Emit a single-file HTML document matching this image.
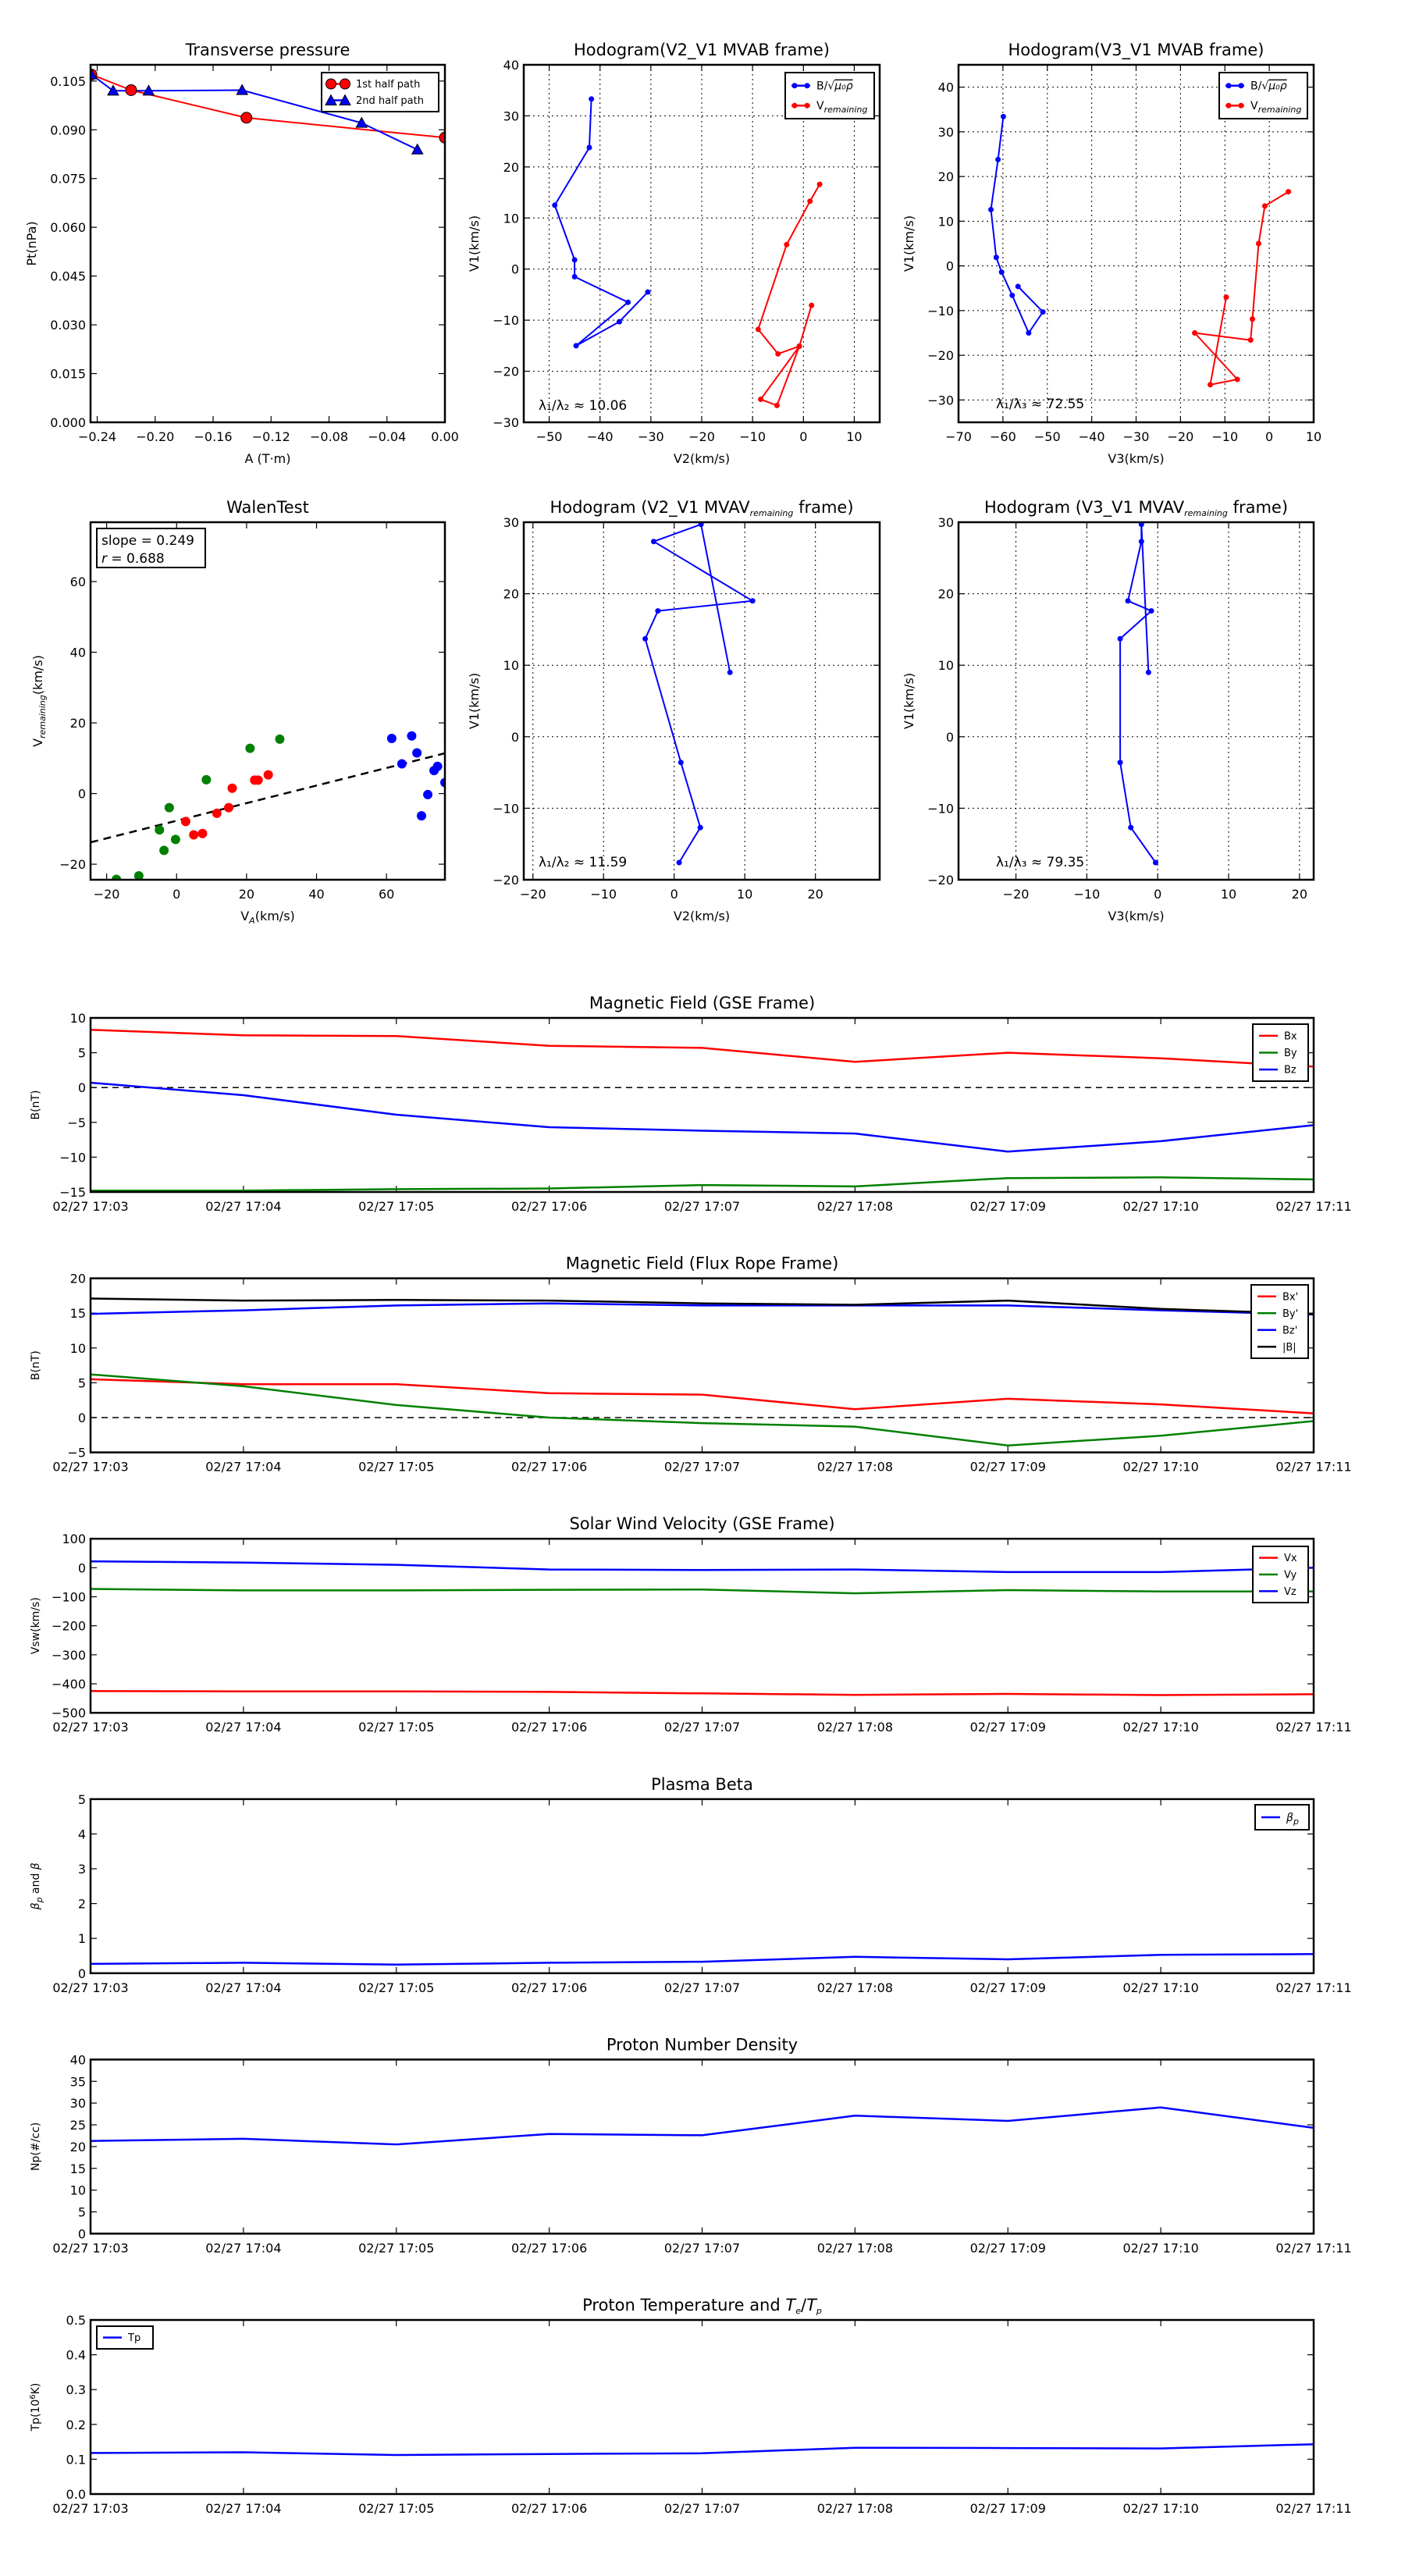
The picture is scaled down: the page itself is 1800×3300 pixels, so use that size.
<!DOCTYPE html>
<html><head><meta charset="utf-8"><title>Flux rope analysis</title>
<style>html,body{margin:0;padding:0;background:#fff}svg{display:block;font-family:"DejaVu Sans","Liberation Sans",sans-serif}</style>
</head><body>
<svg id="fig" xmlns="http://www.w3.org/2000/svg" width="1800" height="3300" viewBox="0 0 1800 3300"></svg>
<script>
// ---------- data ----------
const ptRedA = [-0.2440, -0.2166, -0.1370, 0.0000];
const ptRedP = [0.1070, 0.1022, 0.0937, 0.0876];
const ptBlueA = [-0.2440, -0.2290, -0.2045, -0.1400, -0.0575, -0.0190];
const ptBlueP = [0.1070, 0.1020, 0.1020, 0.1022, 0.0921, 0.0839];

const h1BlueV2 = [-41.7, -42.1, -48.9, -45.0, -45.0, -34.5, -44.7, -36.2, -30.6];
const h1BlueV1 = [33.3, 23.8, 12.5, 1.8, -1.5, -6.5, -15.0, -10.3, -4.5];
const h1RedV2 = [3.2, 1.3, -3.3, -8.9, -5.0, -0.8, -8.4, -5.2, -0.8, 1.6];
const h1RedV1 = [16.6, 13.3, 4.8, -11.8, -16.6, -15.1, -25.5, -26.7, -15.1, -7.1];

const h2BlueV3 = [-59.9, -61.1, -62.7, -61.5, -60.3, -57.9, -54.2, -51.0, -56.6];
const h2BlueV1 = [33.4, 23.8, 12.6, 1.9, -1.4, -6.6, -15.0, -10.3, -4.6];
const h2RedV3 = [4.3, -1.0, -2.4, -3.8, -4.2, -16.8, -7.2, -13.3, -9.7];
const h2RedV1 = [16.6, 13.4, 5.0, -11.9, -16.6, -15.0, -25.4, -26.6, -7.0];

const walenGreenX = [-17.2, -10.8, -3.6, -4.9, -0.3, -2.1, 8.5, 21.0, 29.5];
const walenGreenY = [-24.3, -23.3, -16.1, -10.3, -13.0, -4.0, 3.9, 12.8, 15.4];
const walenRedX = [2.6, 4.9, 7.4, 11.5, 14.9, 15.9, 22.3, 23.3, 26.2];
const walenRedY = [-7.9, -11.7, -11.3, -5.6, -4.0, 1.5, 3.8, 3.8, 5.3];
const walenBlueX = [61.5, 67.2, 64.4, 68.7, 70.0, 71.8, 73.6, 74.6, 76.7];
const walenBlueY = [15.6, 16.3, 8.4, 11.5, -6.3, -0.3, 6.5, 7.7, 3.1];
const walenSlope = 0.249;
const walenIntercept = -7.7;

const h3V2 = [7.9, 3.8, -2.9, 11.1, -2.3, -4.1, 0.95, 3.7, 0.7];
const h3V1 = [9.0, 29.7, 27.3, 19.0, 17.6, 13.7, -3.6, -12.7, -17.6];
const h4V3 = [-1.3, -2.3, -2.3, -4.2, -0.9, -5.3, -5.3, -3.8, -0.3];
const h4V1 = [9.0, 29.7, 27.3, 19.0, 17.6, 13.7, -3.6, -12.7, -17.6];

const timeLabels = ["02/27 17:03","02/27 17:04","02/27 17:05","02/27 17:06","02/27 17:07","02/27 17:08","02/27 17:09","02/27 17:10","02/27 17:11"];
const minutes = [0,1,2,3,4,5,6,7,8];
const gseBx = [8.3, 7.5, 7.4, 6.0, 5.7, 3.7, 5.0, 4.2, 3.0];
const gseBy = [-14.8, -14.8, -14.6, -14.5, -14.0, -14.2, -13.0, -12.9, -13.2];
const gseBz = [0.7, -1.1, -3.9, -5.7, -6.2, -6.6, -9.2, -7.7, -5.4];
const frBx = [5.5, 4.8, 4.8, 3.5, 3.3, 1.2, 2.7, 1.9, 0.6];
const frBy = [6.2, 4.5, 1.8, 0.0, -0.8, -1.3, -4.0, -2.6, -0.5];
const frBz = [14.9, 15.4, 16.1, 16.4, 16.1, 16.1, 16.1, 15.4, 14.8];
const frB = [17.1, 16.8, 16.9, 16.8, 16.4, 16.2, 16.8, 15.6, 14.9];
const vx = [-425, -426, -426, -428, -433, -438, -435, -439, -436];
const vy = [-73, -78, -78, -76, -75, -88, -77, -82, -82];
const vz = [22, 18, 10, -6, -8, -6, -15, -15, 0];
const betaP = [0.27, 0.30, 0.25, 0.30, 0.33, 0.47, 0.40, 0.53, 0.55];
const density = [21.3, 21.8, 20.5, 22.9, 22.6, 27.1, 25.9, 29.0, 24.3];
const tempP = [0.118, 0.120, 0.112, 0.115, 0.117, 0.133, 0.132, 0.131, 0.143];

// ---------- helpers ----------
const NS = "http://www.w3.org/2000/svg";
const svg = document.getElementById('fig');
let clipId = 0;
function mk(tag, attrs, parent) {
  const e = document.createElementNS(NS, tag);
  for (const k in attrs) e.setAttribute(k, attrs[k]);
  parent.appendChild(e);
  return e;
}
function range(a, b, s) { const r = []; for (let v = a; v <= b + 1e-9; v += s) r.push(Math.round(v * 1e6) / 1e6); return r; }
function fmt(v, d) { const s = v.toFixed(d); return s.replace('-', '\u2212'); }

function axes(c) {
  const g = mk('g', {}, svg);
  
  
  const sx = v => c.x0 + (v - c.xmin) / (c.xmax - c.xmin) * c.w;
  const sy = v => c.y0 + c.h - (v - c.ymin) / (c.ymax - c.ymin) * c.h;
  if (c.grid) {
    c.xticks.forEach(t => {
      const l = mk('line', {x1: sx(t), x2: sx(t), y1: c.y0, y2: c.y0 + c.h, stroke: '#000', 'stroke-width': 1, 'stroke-dasharray': '2,4'}, g);
      
      
    });
    c.yticks.forEach(t => {
      const l = mk('line', {x1: c.x0, x2: c.x0 + c.w, y1: sy(t), y2: sy(t), stroke: '#000', 'stroke-width': 1, 'stroke-dasharray': '2,4'}, g);
      
      
    });
  }
  c.xticks.forEach((t, i) => {
    const x = sx(t);
    mk('line', {x1: x, x2: x, y1: c.y0 + c.h, y2: c.y0 + c.h - 8, stroke: '#000', 'stroke-width': 1.2}, g);
    mk('line', {x1: x, x2: x, y1: c.y0, y2: c.y0 + 8, stroke: '#000', 'stroke-width': 1.2}, g);
    const tx = mk('text', {x: x, y: c.y0 + c.h + 24, 'font-size': 16, 'text-anchor': 'middle'}, g);
    tx.textContent = c.xlabels[i];
    
    
  });
  c.yticks.forEach((t, i) => {
    const y = sy(t);
    mk('line', {x1: c.x0, x2: c.x0 + 8, y1: y, y2: y, stroke: '#000', 'stroke-width': 1.2}, g);
    mk('line', {x1: c.x0 + c.w, x2: c.x0 + c.w - 8, y1: y, y2: y, stroke: '#000', 'stroke-width': 1.2}, g);
    const tx = mk('text', {x: c.x0 - 6, y: y + 6, 'font-size': 16, 'text-anchor': 'end'}, g);
    tx.textContent = c.ylabels[i];
    
    
  });
  clipId++;
  const cp = mk('clipPath', {id: 'cp' + clipId}, g);
  mk('rect', {x: c.x0, y: c.y0, width: c.w, height: c.h}, cp);
  const plot = mk('g', {'clip-path': 'url(#cp' + clipId + ')'}, g);
  
  
  const fr = () => {
    const f = mk('rect', {x: c.x0, y: c.y0, width: c.w, height: c.h, fill: 'none', stroke: '#000', 'stroke-width': 2.5}, g);
    
    
  };
  const ti = mk('text', {x: c.x0 + c.w / 2, y: c.y0 - 12, 'font-size': 21, 'text-anchor': 'middle'}, g);
  ti.innerHTML = c.title;
  
  
  if (c.xtitle) {
    const xt = mk('text', {x: c.x0 + c.w / 2, y: c.y0 + c.h + 52, 'font-size': 16, 'text-anchor': 'middle'}, g);
    xt.innerHTML = c.xtitle;
    
    
  }
  if (c.ytitle) {
    const yx = c.x0 - c.ytoff, yy = c.y0 + c.h / 2;
    const yt = mk('text', {x: yx, y: yy, 'font-size': c.ytsize || 16, 'text-anchor': 'middle', transform: 'rotate(-90 ' + yx + ' ' + yy + ')'}, g);
    yt.innerHTML = c.ytitle;
    
    
  }
  return {g, plot, sx, sy, fr, c};
}
function line(ax, xs, ys, color, name, w) {
  const pts = xs.map((x, i) => ax.sx(x).toFixed(1) + ',' + ax.sy(ys[i]).toFixed(1)).join(' ');
  const p = mk('polyline', {points: pts, fill: 'none', stroke: color, 'stroke-width': w || 2.5, 'stroke-linejoin': 'round'}, ax.plot);
  
  
  return p;
}
function dots(ax, xs, ys, color, r, name, edge) {
  xs.forEach((x, i) => {
    const d = mk('circle', {cx: ax.sx(x), cy: ax.sy(ys[i]), r: r, fill: color, stroke: edge || 'none', 'stroke-width': 1}, ax.plot);
    
    
  });
}
function tris(ax, xs, ys, color, s, name) {
  xs.forEach((x, i) => {
    const cx = ax.sx(x), cy = ax.sy(ys[i]);
    const t = mk('polygon', {points: `${cx},${cy - s} ${cx - s},${cy + s * 0.8} ${cx + s},${cy + s * 0.8}`, fill: color, stroke: '#000', 'stroke-width': 1}, ax.plot);
    
    
  });
}
function legend(ax, x, y, w, h, entries, fs, marker) {
  const g = mk('g', {}, ax.g);
  
  
  mk('rect', {x, y, width: w, height: h, fill: '#fff', stroke: '#000', 'stroke-width': 2}, g);
  const step = (h - 8) / entries.length;
  entries.forEach((e, i) => {
    const cy = y + 4 + step * (i + 0.5);
    const ln = mk('line', {x1: x + 8, x2: x + 32, y1: cy, y2: cy, stroke: e.c, 'stroke-width': 2.5}, g);
    
    
    if (marker === 'dot') { mk('circle', {cx: x + 12, cy, r: 3.5, fill: e.c}, g); mk('circle', {cx: x + 28, cy, r: 3.5, fill: e.c}, g); }
    if (e.m === 'bigdot') { mk('circle', {cx: x + 12, cy, r: 6.5, fill: e.c, stroke: '#000'}, g); mk('circle', {cx: x + 30, cy, r: 6.5, fill: e.c, stroke: '#000'}, g); }
    if (e.m === 'tri') { [x + 12, x + 30].forEach(tx => mk('polygon', {points: `${tx},${cy - 7} ${tx - 7},${cy + 6} ${tx + 7},${cy + 6}`, fill: e.c, stroke: '#000'}, g)); }
    const t = mk('text', {x: x + (e.m ? 44 : 40), y: cy + fs * 0.35, 'font-size': fs}, g);
    t.innerHTML = e.t;
    
    
  });
}
function note(ax, x, y, html, fs) {
  const t = mk('text', {x, y, 'font-size': fs || 17}, ax.g);
  t.innerHTML = html;
  
  
  return t;
}
const sub = s => `<tspan font-size="11" font-style="italic" baseline-shift="-4">${s}</tspan>`;

// ---------- row 1 ----------
const TOP1 = 83, H1 = 458, TOP2 = 669;
let a = axes({name: 'transverse-pressure-chart', x0: 116, y0: TOP1, w: 454, h: H1, xmin: -0.2446, xmax: 0, ymin: 0, ymax: 0.11,
  xticks: range(-0.24, 0, 0.04), xlabels: range(-0.24, 0, 0.04).map(v => fmt(v, 2)),
  yticks: range(0, 0.105, 0.015), ylabels: range(0, 0.105, 0.015).map(v => fmt(v, 3)),
  title: 'Transverse pressure', xtitle: 'A (T·m)', ytitle: 'Pt(nPa)', ytoff: 70});
line(a, ptRedA, ptRedP, '#f00', 'first-half-path-line', 2);
line(a, ptBlueA, ptBlueP, '#00f', 'second-half-path-line', 2);
dots(a, ptRedA, ptRedP, '#f00', 7, 'first-half-point', '#000');
tris(a, ptBlueA, ptBlueP, '#00f', 7, 'second-half-point');
a.fr();
legend(a, 412, 93, 150, 50, [{c: '#f00', t: '1st half path', m: 'bigdot'}, {c: '#00f', t: '2nd half path', m: 'tri'}], 13);

a = axes({name: 'hodogram-v2-v1-mvab', x0: 671, y0: TOP1, w: 456, h: H1, xmin: -55, xmax: 15, ymin: -30, ymax: 40, grid: true,
  xticks: range(-50, 10, 10), xlabels: range(-50, 10, 10).map(v => fmt(v, 0)),
  yticks: range(-30, 40, 10), ylabels: range(-30, 40, 10).map(v => fmt(v, 0)),
  title: 'Hodogram(V2_V1 MVAB frame)', xtitle: 'V2(km/s)', ytitle: 'V1(km/s)', ytoff: 58});
line(a, h1BlueV2, h1BlueV1, '#00f', 'b-normalized-path', 2);
dots(a, h1BlueV2, h1BlueV1, '#00f', 3.5, 'b-normalized-point');
line(a, h1RedV2, h1RedV1, '#f00', 'v-remaining-path', 2);
dots(a, h1RedV2, h1RedV1, '#f00', 3.5, 'v-remaining-point');
a.fr();
legend(a, 1006, 93, 114, 59, [{c: '#00f', t: 'B/√<tspan font-style="italic" text-decoration="overline">μ₀ρ</tspan>'}, {c: '#f00', t: 'V' + sub('remaining')}], 14, 'dot');
note(a, 690, 525, 'λ₁/λ₂ ≈ 10.06');

a = axes({name: 'hodogram-v3-v1-mvab', x0: 1228, y0: TOP1, w: 455, h: H1, xmin: -70, xmax: 10, ymin: -35, ymax: 45, grid: true,
  xticks: range(-70, 10, 10), xlabels: range(-70, 10, 10).map(v => fmt(v, 0)),
  yticks: range(-30, 40, 10), ylabels: range(-30, 40, 10).map(v => fmt(v, 0)),
  title: 'Hodogram(V3_V1 MVAB frame)', xtitle: 'V3(km/s)', ytitle: 'V1(km/s)', ytoff: 58});
line(a, h2BlueV3, h2BlueV1, '#00f', 'b-normalized-path', 2);
dots(a, h2BlueV3, h2BlueV1, '#00f', 3.5, 'b-normalized-point');
line(a, h2RedV3, h2RedV1, '#f00', 'v-remaining-path', 2);
dots(a, h2RedV3, h2RedV1, '#f00', 3.5, 'v-remaining-point');
a.fr();
legend(a, 1562, 93, 113, 59, [{c: '#00f', t: 'B/√<tspan font-style="italic" text-decoration="overline">μ₀ρ</tspan>'}, {c: '#f00', t: 'V' + sub('remaining')}], 14, 'dot');
note(a, 1276, 523, 'λ₁/λ₃ ≈ 72.55');

// ---------- row 2 ----------
a = axes({name: 'walen-test-chart', x0: 116, y0: TOP2, w: 454, h: H1, xmin: -24.6, xmax: 76.7, ymin: -24.4, ymax: 76.8,
  xticks: range(-20, 60, 20), xlabels: range(-20, 60, 20).map(v => fmt(v, 0)),
  yticks: range(-20, 60, 20), ylabels: range(-20, 60, 20).map(v => fmt(v, 0)),
  title: 'WalenTest', xtitle: 'V' + sub('A') + '(km/s)', ytitle: 'V' + sub('remaining') + '(km/s)', ytoff: 62});
const fx = [a.c.xmin, a.c.xmax];
const fl = line(a, fx, fx.map(x => walenSlope * x + walenIntercept), '#000', 'regression-line', 2.5);
fl.setAttribute('stroke-dasharray', '10,7');
dots(a, walenGreenX, walenGreenY, '#008000', 6, 'walen-point-green');
dots(a, walenRedX, walenRedY, '#f00', 6, 'walen-point-red');
dots(a, walenBlueX, walenBlueY, '#00f', 6, 'walen-point-blue');
a.fr();
const wb = mk('rect', {x: 124, y: 677, width: 139, height: 50, fill: '#fff', stroke: '#000', 'stroke-width': 2}, a.g);


note(a, 130, 698, 'slope = 0.249', 17);
note(a, 130, 721, '<tspan font-style="italic">r</tspan> = 0.688', 17);

a = axes({name: 'hodogram-v2-v1-mvav', x0: 671, y0: TOP2, w: 456, h: H1, xmin: -21.3, xmax: 29.1, ymin: -20, ymax: 30, grid: true,
  xticks: range(-20, 20, 10), xlabels: range(-20, 20, 10).map(v => fmt(v, 0)),
  yticks: range(-20, 30, 10), ylabels: range(-20, 30, 10).map(v => fmt(v, 0)),
  title: 'Hodogram (V2_V1 MVAV' + sub('remaining') + ' frame)', xtitle: 'V2(km/s)', ytitle: 'V1(km/s)', ytoff: 58});
line(a, h3V2, h3V1, '#00f', 'hodogram-path', 2);
dots(a, h3V2, h3V1, '#00f', 3.5, 'hodogram-point');
a.fr();
note(a, 690, 1110, 'λ₁/λ₂ ≈ 11.59');

a = axes({name: 'hodogram-v3-v1-mvav', x0: 1228, y0: TOP2, w: 455, h: H1, xmin: -28.1, xmax: 22, ymin: -20, ymax: 30, grid: true,
  xticks: range(-20, 20, 10), xlabels: range(-20, 20, 10).map(v => fmt(v, 0)),
  yticks: range(-20, 30, 10), ylabels: range(-20, 30, 10).map(v => fmt(v, 0)),
  title: 'Hodogram (V3_V1 MVAV' + sub('remaining') + ' frame)', xtitle: 'V3(km/s)', ytitle: 'V1(km/s)', ytoff: 58});
line(a, h4V3, h4V1, '#00f', 'hodogram-path', 2);
dots(a, h4V3, h4V1, '#00f', 3.5, 'hodogram-point');
a.fr();
note(a, 1276, 1110, 'λ₁/λ₃ ≈ 79.35');

// ---------- time series ----------
const TS_X = 116, TS_W = 1567, TS_H = 223;
function ts(i, cfg) {
  const y0 = 1304 + i * 333.6;
  return axes(Object.assign({x0: TS_X, y0: y0, w: TS_W, h: TS_H, xmin: 0, xmax: 8,
    xticks: minutes, xlabels: timeLabels, ytoff: 66, ytsize: 14}, cfg));
}
function zero(ax) {
  const l = mk('line', {x1: ax.sx(0), x2: ax.sx(8), y1: ax.sy(0), y2: ax.sy(0), stroke: '#000', 'stroke-width': 1.5, 'stroke-dasharray': '8,6'}, ax.plot);
  
  
}

a = ts(0, {name: 'magnetic-field-gse-chart', ymin: -15, ymax: 10, yticks: range(-15, 10, 5), ylabels: range(-15, 10, 5).map(v => fmt(v, 0)), title: 'Magnetic Field (GSE Frame)', ytitle: 'B(nT)'});
zero(a);
line(a, minutes, gseBx, '#f00', 'bx-line');
line(a, minutes, gseBy, '#008000', 'by-line');
line(a, minutes, gseBz, '#00f', 'bz-line');
a.fr();
legend(a, 1605, 1312, 71, 73, [{c: '#f00', t: 'Bx'}, {c: '#008000', t: 'By'}, {c: '#00f', t: 'Bz'}], 13);

a = ts(1, {name: 'magnetic-field-flux-rope-chart', ymin: -5, ymax: 20, yticks: range(-5, 20, 5), ylabels: range(-5, 20, 5).map(v => fmt(v, 0)), title: 'Magnetic Field (Flux Rope Frame)', ytitle: 'B(nT)'});
zero(a);
line(a, minutes, frBx, '#f00', 'bx-prime-line');
line(a, minutes, frBy, '#008000', 'by-prime-line');
line(a, minutes, frBz, '#00f', 'bz-prime-line');
line(a, minutes, frB, '#000', 'b-magnitude-line');
a.fr();
legend(a, 1603, 1646, 73, 94, [{c: '#f00', t: "Bx'"}, {c: '#008000', t: "By'"}, {c: '#00f', t: "Bz'"}, {c: '#000', t: '|B|'}], 13);

a = ts(2, {name: 'solar-wind-velocity-chart', ymin: -500, ymax: 100, yticks: range(-500, 100, 100), ylabels: range(-500, 100, 100).map(v => fmt(v, 0)), title: 'Solar Wind Velocity (GSE Frame)', ytitle: 'Vsw(km/s)'});
line(a, minutes, vx, '#f00', 'vx-line');
line(a, minutes, vy, '#008000', 'vy-line');
line(a, minutes, vz, '#00f', 'vz-line');
a.fr();
legend(a, 1605, 1981, 71, 72, [{c: '#f00', t: 'Vx'}, {c: '#008000', t: 'Vy'}, {c: '#00f', t: 'Vz'}], 13);

a = ts(3, {name: 'plasma-beta-chart', ymin: 0, ymax: 5, yticks: range(0, 5, 1), ylabels: range(0, 5, 1).map(v => fmt(v, 0)), title: 'Plasma Beta', ytitle: '<tspan font-style="italic">β</tspan>' + sub('p') + ' and <tspan font-style="italic">β</tspan>'});
line(a, minutes, betaP, '#00f', 'beta-p-line');
a.fr();
legend(a, 1608, 2312, 69, 32, [{c: '#00f', t: '<tspan font-style="italic">β</tspan>' + sub('p')}], 14);

a = ts(4, {name: 'proton-density-chart', ymin: 0, ymax: 40, yticks: range(0, 40, 5), ylabels: range(0, 40, 5).map(v => fmt(v, 0)), title: 'Proton Number Density', ytitle: 'Np(#/cc)'});
line(a, minutes, density, '#00f', 'density-line');
a.fr();

a = ts(5, {name: 'proton-temperature-chart', ymin: 0, ymax: 0.5, yticks: range(0, 0.5, 0.1), ylabels: range(0, 0.5, 0.1).map(v => fmt(v, 1)), title: 'Proton Temperature and <tspan font-style="italic">T</tspan>' + sub('e') + '/<tspan font-style="italic">T</tspan>' + sub('p'), ytitle: 'Tp(10<tspan font-size="10" baseline-shift="5">6</tspan>K)'});
line(a, minutes, tempP, '#00f', 'tp-line');
a.fr();
legend(a, 124, 2980, 72, 29, [{c: '#00f', t: 'Tp'}], 13);
</script>
</body></html>
